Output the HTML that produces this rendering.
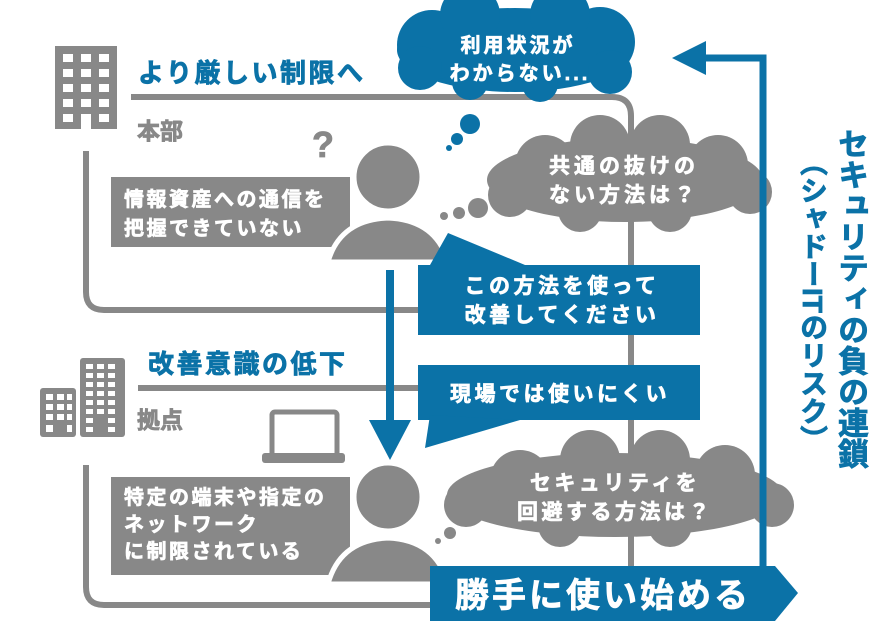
<!DOCTYPE html>
<html><head><meta charset="utf-8"><style>
body{margin:0;background:#fff;}
#w{position:relative;width:885px;height:641px;overflow:hidden;font-family:"Liberation Sans","Noto Sans CJK JP",sans-serif;font-weight:bold;}
svg{position:absolute;left:0;top:0}
.v{position:absolute;writing-mode:vertical-rl;color:#0b72a7;font-weight:bold;white-space:nowrap;-webkit-text-stroke:0.8px #0b72a7}
.tw{stroke:#fff;stroke-width:0.7}
.tb{stroke:#0b72a7;stroke-width:0.8}
.tg{stroke:#888;stroke-width:0.8}
</style></head><body><div id="w">
<svg width="885" height="641" viewBox="0 0 885 641" font-family="Liberation Sans, Noto Sans CJK JP, sans-serif" font-weight="bold">
<g fill="none" stroke="#888" stroke-width="6">
<path d="M131 97 H612 Q631 97 631 116 V600"/>
<path d="M86 151 V292 Q86 310 104 310 H430"/>
<path d="M138 388 H430"/>
<path d="M86 465 V587 Q86 605 104 605 H440"/>
</g>
<rect x="55" y="46" width="62" height="83" fill="#888"/>
<g fill="#fff">
<rect x="63" y="54" width="10" height="8"/><rect x="81" y="54" width="10" height="8"/><rect x="99" y="54" width="10" height="8"/>
<rect x="63" y="69" width="10" height="8"/><rect x="81" y="69" width="10" height="8"/><rect x="99" y="69" width="10" height="8"/>
<rect x="63" y="84" width="10" height="8"/><rect x="81" y="84" width="10" height="8"/><rect x="99" y="84" width="10" height="8"/>
<rect x="63" y="99" width="10" height="8"/><rect x="81" y="99" width="10" height="8"/><rect x="99" y="99" width="10" height="8"/>
<rect x="63" y="114" width="10" height="8"/><rect x="81" y="114" width="10" height="15"/><rect x="99" y="114" width="10" height="8"/>
</g>
<rect x="40" y="388" width="36" height="49" rx="3" fill="#888"/>
<rect x="80" y="358" width="45" height="79" rx="3" fill="#888"/>
<g fill="#fff">
<rect x="46" y="394" width="7" height="6"/><rect x="57" y="394" width="7" height="6"/><rect x="67" y="394" width="5" height="6"/>
<rect x="46" y="404" width="7" height="6"/><rect x="57" y="404" width="7" height="6"/><rect x="67" y="404" width="5" height="6"/>
<rect x="46" y="414" width="7" height="6"/><rect x="57" y="414" width="7" height="6"/><rect x="67" y="414" width="5" height="6"/>
<rect x="46" y="425" width="7" height="7"/><rect x="67" y="425" width="5" height="7"/>
<path d="M86 364h7v5h-7zM97 364h7v5h-7zM108 364h7v5h-7zM86 373h7v5h-7zM97 373h7v5h-7zM108 373h7v5h-7zM86 382h7v5h-7zM97 382h7v5h-7zM108 382h7v5h-7zM86 391h7v5h-7zM97 391h7v5h-7zM108 391h7v5h-7zM86 400h7v5h-7zM97 400h7v5h-7zM108 400h7v5h-7zM86 409h7v5h-7zM97 409h7v5h-7zM108 409h7v5h-7zM86 418h7v5h-7zM108 418h7v5h-7zM86 427h7v5h-7zM108 427h7v5h-7z"/>
</g>
<text class="tb" x="138" y="82" font-size="26" letter-spacing="2.5" fill="#0b72a7">より厳しい制限へ</text>
<text class="tg" x="137" y="139" font-size="23" fill="#888">本部</text>
<text class="tb" x="148" y="373" font-size="26" letter-spacing="2.5" fill="#0b72a7">改善意識の低下</text>
<text class="tg" x="137" y="428" font-size="23" fill="#888">拠点</text>
<text class="tg" x="312" y="157" font-size="36" fill="#888">?</text>
<rect x="272" y="412" width="65" height="44" rx="3" fill="none" stroke="#888" stroke-width="5"/>
<rect x="262" y="453" width="83" height="10" rx="3" fill="#888"/>
<rect x="111" y="177" width="239" height="70" fill="#888"/>
<text class="tw" fill="#fff" font-size="20" letter-spacing="2.5"><tspan x="124" y="206">情報資産への通信を</tspan><tspan x="124" y="235">把握できていない</tspan></text>
<rect x="111" y="477" width="239" height="98" fill="#888"/>
<text class="tw" fill="#fff" font-size="20" letter-spacing="2.5"><tspan x="124" y="504">特定の端末や指定の</tspan><tspan x="124" y="531">ネットワーク</tspan><tspan x="124" y="558">に制限されている</tspan></text>
<g fill="#888" stroke="#fff" stroke-width="5">
<circle cx="388" cy="177" r="34"/>
<path d="M328 262 Q340 220 388 218 Q436 220 448 262 Z"/>
<circle cx="388" cy="497" r="34"/>
<path d="M328 584 Q340 540 388 538 Q436 540 448 584 Z"/>
</g>
<g fill="#0b72a7">
<ellipse cx="515" cy="50" rx="118" ry="42"/>
<circle cx="432" cy="45" r="35"/><circle cx="600" cy="42" r="35"/>
<circle cx="470" cy="15" r="30"/><circle cx="560" cy="15" r="30"/>
<circle cx="420" cy="68" r="22"/><circle cx="610" cy="72" r="22"/>
<circle cx="470" cy="82" r="18"/><circle cx="540" cy="84" r="18"/>
<circle cx="470" cy="124" r="10"/><circle cx="457" cy="139" r="6"/><circle cx="449" cy="148" r="3"/>
</g>
<text class="tw" fill="#fff" font-size="20" letter-spacing="3" text-anchor="middle"><tspan x="518" y="52">利用状況が</tspan><tspan x="520" y="80">わからない...</tspan></text>
<g fill="#888">
<ellipse cx="625" cy="180" rx="138" ry="42"/>
<circle cx="545" cy="165" r="30"/><circle cx="600" cy="145" r="30"/><circle cx="660" cy="145" r="30"/><circle cx="718" cy="165" r="30"/>
<circle cx="510" cy="195" r="22"/><circle cx="750" cy="192" r="22"/>
<circle cx="580" cy="210" r="22"/><circle cx="670" cy="210" r="22"/>
<circle cx="478" cy="208" r="10"/><circle cx="459" cy="213" r="6"/><circle cx="444" cy="216" r="4"/>
</g>
<text class="tw" fill="#fff" font-size="21" letter-spacing="4" text-anchor="middle"><tspan x="624" y="173">共通の抜けの</tspan><tspan x="624" y="202">ない方法は？</tspan></text>
<g fill="#888">
<ellipse cx="615" cy="495" rx="168" ry="42"/>
<circle cx="520" cy="480" r="30"/><circle cx="590" cy="460" r="30"/><circle cx="660" cy="460" r="30"/><circle cx="725" cy="475" r="30"/>
<circle cx="466" cy="505" r="22"/><circle cx="772" cy="505" r="22"/>
<circle cx="560" cy="525" r="22"/><circle cx="670" cy="525" r="22"/>
<circle cx="450" cy="533" r="6"/><circle cx="438" cy="541" r="3"/>
</g>
<text class="tw" fill="#fff" font-size="21" letter-spacing="3.5" text-anchor="middle"><tspan x="615" y="490">セキュリティを</tspan><tspan x="615" y="519">回避する方法は？</tspan></text>
<path d="M448 233 L525 265 H430 Z" fill="#0b72a7"/>
<rect x="418" y="265" width="282" height="70" fill="#0b72a7"/>
<text class="tw" fill="#fff" font-size="21" letter-spacing="3.5" text-anchor="middle"><tspan x="562" y="293">この方法を使って</tspan><tspan x="562" y="322">改善してください</tspan></text>
<rect x="418" y="365" width="282" height="55" fill="#0b72a7"/>
<path d="M430 415 L520 420 L425 448 Z" fill="#0b72a7"/>
<text class="tw" fill="#fff" font-size="21" letter-spacing="3.5" text-anchor="middle" x="560" y="401">現場では使いにくい</text>
<rect x="386" y="270" width="8" height="152" fill="#0b72a7"/>
<path d="M369 420 H411 L390 460 Z" fill="#0b72a7"/>
<path d="M763 590 V58 H700" fill="none" stroke="#0b72a7" stroke-width="7"/>
<path d="M672 58 L706 41 V75 Z" fill="#0b72a7"/>
<path d="M430 566 H775 L798 593 L775 621 H430 Z" fill="#0b72a7"/>
<text class="tw" fill="#fff" font-size="34" letter-spacing="3" x="455" y="607">勝手に使い始める</text>
</svg>
<div class="v" style="left:828px;top:128px;font-size:31px;">セキュリティの負の連鎖</div>
<div class="v" style="left:792px;top:148px;font-size:28px;">（シャドーITのリスク）</div>
</div></body></html>
